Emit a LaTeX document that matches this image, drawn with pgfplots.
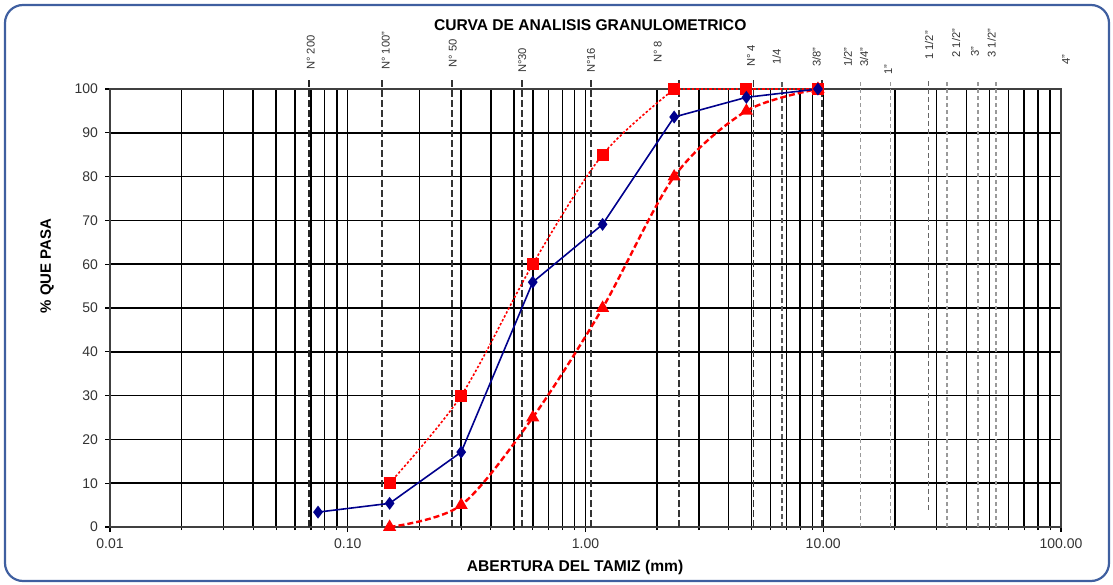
\documentclass[border=0pt]{standalone}
\usepackage{pgfplots}
\pgfplotsset{compat=1.18}
\usepackage{fontspec}
\setmainfont{Liberation Sans}
\definecolor{bluecurve}{RGB}{0,0,140}
\definecolor{framecol}{RGB}{63,95,160}
\begin{document}
\begin{tikzpicture}
\begin{axis}[
  scale only axis, width=475.5pt, height=219pt,
  xmode=log, xmin=0.01, xmax=100, ymin=0, ymax=100,
  xtick={0.01,0.1,1,10,100},
  xticklabels={0.01,0.10,1.00,10.00,100.00},
  minor xtick={0.02,0.03,0.04,0.05,0.06,0.07,0.08,0.09,0.2,0.3,0.4,0.5,0.6,0.7,0.8,0.9,2,3,4,5,6,7,8,9,20,30,40,50,60,70,80,90},
  ytick={0,10,...,100},
  /pgf/number format/assume math mode=true,
  xtick pos=bottom, ytick pos=left,
  tick align=outside, major tick length=2.5pt, minor tick length=1.5pt,
  tick style={black, line width=0.6pt},
  grid=both,
  major grid style={black, line width=0.75pt},
  minor grid style={black, line width=0.75pt},
  axis line style={black!75, line width=0.8pt},
  clip=false,
  tick label style={font=\fontsize{7}{8}\selectfont, text=black!80},
  title={CURVA DE ANALISIS GRANULOMETRICO},
  title style={at={(axis description cs:0.505,1.146)}, anchor=center, yshift=-6pt, font=\fontsize{7.8}{9}\selectfont\bfseries},
  xlabel={ABERTURA DEL TAMIZ (mm)},
  xlabel style={at={(axis description cs:0.489,-0.0913)}, anchor=center, font=\fontsize{7.8}{9}\selectfont\bfseries},
  ylabel={\% QUE PASA},
  ylabel style={at={(axis description cs:-0.066,0.596)}, anchor=center, font=\fontsize{7.5}{9}\selectfont\bfseries},
]
% sieve reference lines
\addplot[black!85, line width=0.9pt, dash pattern=on 3.5pt off 1.5pt] coordinates {(0.0689,0) (0.0689,102)};
\addplot[black!80, line width=0.9pt, dash pattern=on 3.5pt off 1.5pt] coordinates {(0.1389,0) (0.1389,102)};
\addplot[black!80, line width=0.9pt, dash pattern=on 3.5pt off 1.5pt] coordinates {(0.2736,0) (0.2736,102)};
\addplot[black!80, line width=0.9pt, dash pattern=on 3.5pt off 1.5pt] coordinates {(0.5423,0) (0.5423,102)};
\addplot[black!80, line width=0.9pt, dash pattern=on 3.5pt off 1.5pt] coordinates {(1.0547,0) (1.0547,102)};
\addplot[black!80, line width=0.9pt, dash pattern=on 3.5pt off 1.5pt] coordinates {(2.480,0) (2.480,102)};
\addplot[black!80, line width=0.9pt, dash pattern=on 3.5pt off 1.5pt] coordinates {(5.09,0) (5.09,102)};
\addplot[black!65, line width=0.8pt, dash pattern=on 2.5pt off 1.5pt] coordinates {(6.71,0) (6.71,102)};
\addplot[black!80, line width=0.9pt, dash pattern=on 3.5pt off 1.5pt] coordinates {(9.88,0) (9.88,102)};
\addplot[black!40, line width=0.8pt, dash pattern=on 2pt off 1.5pt] coordinates {(14.34,0) (14.34,102)};
\addplot[black!40, line width=0.8pt, dash pattern=on 2pt off 1.5pt] coordinates {(19.18,0) (19.18,102)};
\addplot[black!60, line width=0.8pt, dash pattern=on 2.5pt off 1.5pt] coordinates {(27.66,3.9) (27.66,102)};
\addplot[black!40, line width=0.8pt, dash pattern=on 2pt off 1.5pt] coordinates {(33.16,0) (33.16,102)};
\addplot[black!40, line width=0.8pt, dash pattern=on 2pt off 1.5pt] coordinates {(44.88,0) (44.88,102)};
\addplot[black!40, line width=0.8pt, dash pattern=on 2pt off 1.5pt] coordinates {(53.3,0) (53.3,102)};
% sieve labels
\begin{scope}[every node/.style={rotate=90, anchor=west, inner sep=0pt, font=\fontsize{5.6}{6}\selectfont, text=black!80}]
\node at (axis cs:0.0699,104.3) {N° 200};
\node at (axis cs:0.1444,104.3) {N° 100"};
\node at (axis cs:0.2763,104.9) {N° 50};
\node at (axis cs:0.5423,103.6) {N°30};
\node at (axis cs:1.0547,103.6) {N°16};
\node at (axis cs:2.012,105.9) {N° 8};
\node at (axis cs:4.966,105.0) {N° 4};
\node at (axis cs:6.37,105.5) {1/4};
\node at (axis cs:9.385,105.0) {3/8"};
\node at (axis cs:12.68,105.0) {1/2"};
\node at (axis cs:14.84,105.0) {3/4"};
\node at (axis cs:18.77,103.2) {1"};
\node at (axis cs:27.86,106.6) {1 1/2"};
\node at (axis cs:36.17,107.1) {2 1/2"};
\node at (axis cs:43.45,107.3) {3"};
\node at (axis cs:51.1,107.1) {3 1/2"};
\node at (axis cs:104.95,105.5) {4"};
\end{scope}
% upper limit (squares, dotted): smooth part, then flat at 100
\addplot[red, line width=0.8pt, dash pattern=on 1.2pt off 1pt, smooth, mark=square*, mark size=2.6pt, mark options={solid, fill=red}]
  coordinates {(0.15,10) (0.3,30) (0.6,60) (1.18,85) (2.36,100)};
\addplot[red, line width=0.8pt, dash pattern=on 1.2pt off 1pt, mark=square*, mark size=2.6pt, mark options={solid, fill=red}]
  coordinates {(2.36,100) (4.75,100) (9.5,100)};
% lower limit (triangles, dashed)
\addplot[red, line width=1.2pt, dash pattern=on 3pt off 1.5pt, smooth, mark=triangle*, mark size=2.6pt, mark options={solid, fill=red}]
  coordinates {(0.15,0) (0.3,5) (0.6,25) (1.18,50) (2.36,80) (4.75,95) (9.5,100)};
% sample gradation
\addplot[bluecurve, line width=0.8pt, mark=diamond*, mark size=2.6pt, mark options={solid, fill=bluecurve}]
  coordinates {(0.075,3.4) (0.15,5.4) (0.3,17.1) (0.6,55.9) (1.18,69.1) (2.36,93.6) (4.75,98.1) (9.5,100)};
\end{axis}
\begin{scope}[shift={(current axis.south west)}, x=0.5pt, y=-0.5pt]
  \pgfresetboundingbox
  \useasboundingbox (-110,-527) rectangle (1003,57);
  \draw[framecol, line width=1.1pt, rounded corners=9pt] (-105,-522) rectangle (999,54);
\end{scope}
\end{tikzpicture}
\end{document}
